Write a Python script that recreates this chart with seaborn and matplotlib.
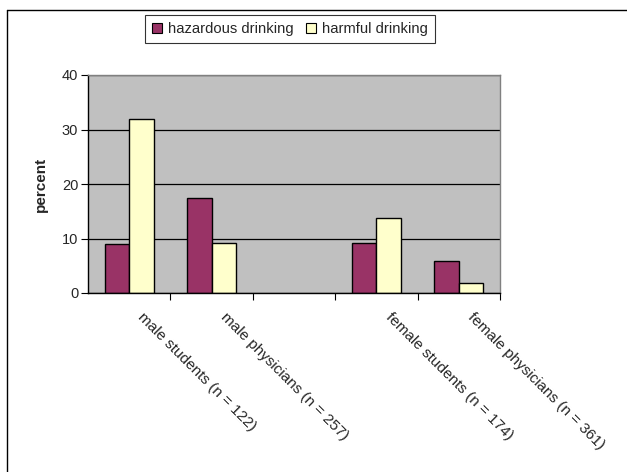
import numpy as np
import pandas as pd
import matplotlib
matplotlib.use("Agg")
import matplotlib.pyplot as plt
import seaborn as sns
from matplotlib.lines import Line2D
from matplotlib.transforms import ScaledTranslation

groups = ["male students (n = 122)", "male physicians (n = 257)", "",
          "female students (n = 174)", "female physicians (n = 361)"]
hazardous = [9.0, 17.4, np.nan, 9.2, 5.8]
harmful = [32.0, 9.2, np.nan, 13.7, 1.8]
series = ["hazardous drinking", "harmful drinking"]
colors = ["#993366", "#FFFFCC"]

df = pd.DataFrame({
    "group": groups * 2,
    "kind": [series[0]] * len(groups) + [series[1]] * len(groups),
    "percent": hazardous + harmful,
})

sns.set_style("white")
plt.rcParams["font.family"] = ["Liberation Sans", "DejaVu Sans"]

fig = plt.figure(figsize=(6.27, 4.72), dpi=100)
ax = fig.add_axes([88 / 627, 1 - 293 / 472, 412 / 627, 218 / 472])
ax.set_facecolor("#C0C0C0")

sns.barplot(data=df, x="group", y="percent", hue="kind", order=groups,
            hue_order=series, palette=colors, width=0.59,
            edgecolor="black", linewidth=1, saturation=1, ax=ax)

ax.set_ylim(0, 40)
ax.set_xlim(-0.5, len(groups) - 0.5)
ax.set_yticks([0, 10, 20, 30, 40])
ax.yaxis.grid(True, color="black", linewidth=0.9)
ax.set_axisbelow(True)
ax.tick_params(axis="y", direction="out", length=5, width=0.8, color="black",
               labelsize=10.5, pad=2, left=True)
ax.set_xticks(np.arange(len(groups)) - 0.5 + 1, minor=True)
ax.tick_params(axis="x", which="minor", direction="out", length=5, width=0.8,
               color="black", bottom=True)
ax.tick_params(axis="x", which="major", length=0, labelsize=11, pad=12)
ax.set_xticks(np.arange(len(groups)))
ax.set_xticklabels(groups, rotation=-45, ha="left", va="top",
                   rotation_mode="anchor")
offset = ScaledTranslation(0.16, 0, fig.dpi_scale_trans)
for lab in ax.get_xticklabels():
    lab.set_transform(lab.get_transform() + offset)

ax.set_xlabel("")
ax.set_ylabel("percent", fontsize=11, fontweight="bold", labelpad=10)

for side in ["top", "right"]:
    ax.spines[side].set_color("#808080")
    ax.spines[side].set_linewidth(1)
for side in ["left", "bottom"]:
    ax.spines[side].set_color("black")
    ax.spines[side].set_linewidth(1)

handles = [plt.Rectangle((0, 0), 1, 1, facecolor=c, edgecolor="black", linewidth=0.8)
           for c in colors]
ax.legend(handles, series, loc="center", bbox_to_anchor=(290 / 627, 1 - 29 / 472),
          bbox_transform=fig.transFigure, ncol=2, frameon=True, fancybox=False,
          edgecolor="black", fontsize=10.6, handlelength=0.7, handleheight=0.7,
          handletextpad=0.4, columnspacing=0.8, borderpad=0.5)
ax.get_legend().get_frame().set_linewidth(0.8)

# chart area border (only left and top visible in the reference)
fig.add_artist(Line2D([7 / 627, 7 / 627], [0, 1 - 10 / 472], color="black",
                      linewidth=1, transform=fig.transFigure))
fig.add_artist(Line2D([7 / 627, 1], [1 - 10 / 472, 1 - 10 / 472], color="black",
                      linewidth=1, transform=fig.transFigure))

fig.savefig("out.png", dpi=100)
